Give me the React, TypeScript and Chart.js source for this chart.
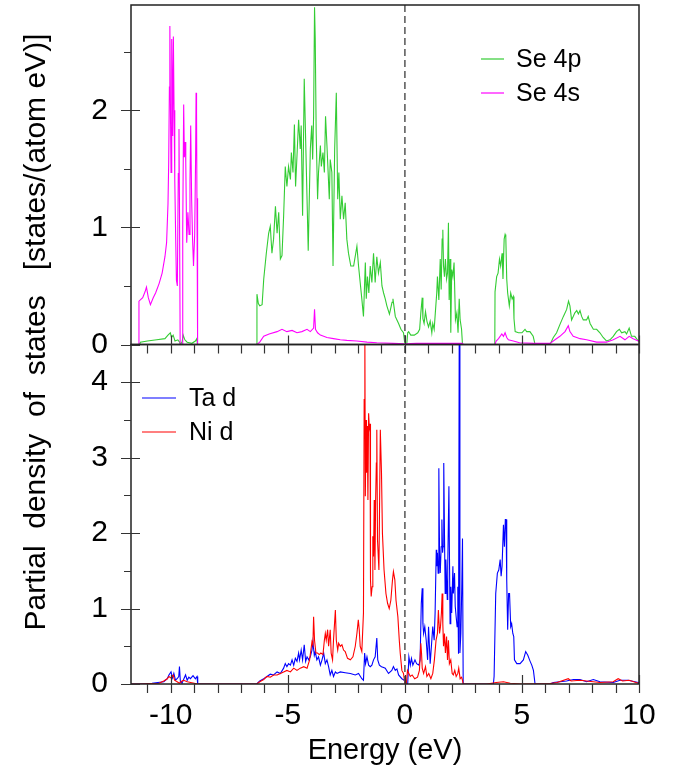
import React, { useEffect, useRef } from "react";
import { Chart, registerables } from "chart.js";

Chart.register(...registerables);

const X_MIN = -11.7;
const X_MAX = 10;
const TOP_MAX = 2.9;
const BOT_MAX = 4.5;

const FONT = '"Liberation Sans", Arial, Helvetica, sans-serif';

const Y_TITLE = "Partial  density  of  states   [states/(atom eV)]";
const X_TITLE = "Energy (eV)";

// [energy (eV), PDOS]
const se4p: [number, number][] = [
  [-11.7, 0], [-11.33, 0], [-11.3, 0.02], [-11.0, 0.03], [-10.6, 0.04], [-10.25, 0.05], [-10.12, 0.08],
  [-10.02, 0.1], [-9.97, 0.06], [-9.9, 0.08], [-9.82, 0.03], [-9.7, 0.04], [-9.62, 0.02], [-9.59, 0],
  [-9.52, 0.02], [-9.47, 0.08], [-9.4, 0.04], [-9.3, 0.02], [-9.1, 0.01], [-8.95, 0.03], [-8.89, 0.05],
  [-8.86, 0], [-6.33, 0],
  [-6.32, 0.43], [-6.26, 0.35], [-6.2, 0.33], [-6.1, 0.34], [-6.03, 0.56], [-5.92, 0.78], [-5.82, 0.95],
  [-5.75, 1.01], [-5.68, 0.78], [-5.61, 0.9], [-5.53, 1.18], [-5.46, 0.95], [-5.39, 1.13], [-5.32, 0.73],
  [-5.25, 0.76], [-5.18, 1.1], [-5.11, 1.52], [-5.04, 1.35], [-4.97, 1.52], [-4.89, 1.41], [-4.85, 1.64],
  [-4.78, 1.47], [-4.72, 1.88], [-4.67, 1.35], [-4.61, 1.61], [-4.54, 1.92], [-4.47, 1.67], [-4.43, 1.87],
  [-4.37, 1.1], [-4.3, 2.27], [-4.24, 1.75], [-4.18, 1.24], [-4.13, 0.8], [-4.04, 1.67], [-3.98, 1.87],
  [-3.94, 1.58], [-3.9, 1.95], [-3.86, 2.88], [-3.83, 2.61], [-3.79, 1.81], [-3.73, 1.24], [-3.69, 1.47],
  [-3.61, 1.7], [-3.57, 1.52], [-3.5, 1.64], [-3.44, 1.47], [-3.39, 1.95], [-3.33, 1.7], [-3.29, 1.52],
  [-3.23, 1.24], [-3.19, 1.58], [-3.12, 1.47], [-3.07, 0.67], [-3.0, 1.67], [-2.93, 2.15], [-2.87, 1.24],
  [-2.82, 1.47], [-2.76, 1.07], [-2.69, 1.27], [-2.62, 1.07], [-2.55, 1.21], [-2.48, 0.9], [-2.41, 0.78],
  [-2.31, 0.67], [-2.19, 0.67], [-2.05, 0.84], [-1.98, 0.67], [-1.91, 0.53], [-1.84, 0.39], [-1.77, 0.24],
  [-1.69, 0.7], [-1.65, 0.39], [-1.6, 0.58], [-1.54, 0.44], [-1.48, 0.67], [-1.41, 0.53], [-1.34, 0.78],
  [-1.27, 0.53], [-1.2, 0.75], [-1.13, 0.61], [-1.05, 0.7], [-0.98, 0.5], [-0.91, 0.44], [-0.84, 0.39],
  [-0.77, 0.33], [-0.66, 0.26], [-0.55, 0.36], [-0.51, 0.39], [-0.45, 0.3], [-0.41, 0.24], [-0.34, 0.21],
  [-0.27, 0.18], [-0.17, 0.13], [-0.06, 0.1], [0.0, 0], [0.08, 0], [0.12, 0.1], [0.16, 0.11], [0.25, 0.08],
  [0.4, 0.08], [0.55, 0.1], [0.63, 0.13], [0.68, 0.27], [0.74, 0.4], [0.77, 0.22], [0.82, 0.18],
  [0.88, 0.28], [0.94, 0.2], [1.01, 0.15], [1.08, 0.2], [1.15, 0.1], [1.19, 0.18], [1.25, 0.13],
  [1.31, 0.3], [1.36, 0.44], [1.39, 0.58], [1.45, 0.38], [1.51, 0.73], [1.55, 0.47], [1.59, 0.9],
  [1.62, 0.98], [1.65, 0.67], [1.69, 0.58], [1.73, 0.73], [1.78, 0.56], [1.82, 0.61], [1.86, 1.04],
  [1.89, 0.38], [1.93, 0.73], [1.96, 0.1], [2.0, 0.64], [2.05, 0.58], [2.1, 0.7], [2.16, 0.21],
  [2.22, 0.27], [2.27, 0.1], [2.32, 0.39], [2.36, 0.21], [2.42, 0.13], [2.46, 0], [3.84, 0],
  [3.85, 0.45], [3.92, 0.58], [3.98, 0.61], [4.04, 0.73], [4.09, 0.67], [4.15, 0.78], [4.19, 0.56],
  [4.24, 0.9], [4.28, 0.94], [4.31, 0.92], [4.35, 0.56], [4.39, 0.44], [4.46, 0.33], [4.52, 0.44],
  [4.58, 0.39], [4.63, 0.41], [4.66, 0.22], [4.71, 0.11], [4.85, 0.1], [5.0, 0.1], [5.13, 0.13],
  [5.2, 0.11], [5.34, 0.11], [5.48, 0.07], [5.56, 0], [6.2, 0],
  [6.34, 0.06], [6.48, 0.1], [6.62, 0.17], [6.77, 0.24], [6.91, 0.3], [6.99, 0.37], [7.05, 0.33],
  [7.12, 0.21], [7.19, 0.24], [7.26, 0.27], [7.34, 0.29], [7.41, 0.26], [7.48, 0.29], [7.55, 0.24],
  [7.62, 0.21], [7.76, 0.21], [7.83, 0.24], [7.91, 0.18], [8.05, 0.13], [8.19, 0.13], [8.33, 0.1],
  [8.47, 0.06], [8.61, 0.03], [8.76, 0.04], [8.9, 0.07], [9.04, 0.11], [9.16, 0.13], [9.26, 0.1],
  [9.4, 0.11], [9.47, 0.09], [9.58, 0.14], [9.68, 0.07], [9.82, 0.07], [9.97, 0.03], [10, 0.03],
];

const se4s: [number, number][] = [
  [-11.7, 0], [-11.38, 0], [-11.36, 0.37], [-11.2, 0.4], [-11.1, 0.45], [-11.04, 0.49], [-10.96, 0.4],
  [-10.87, 0.34], [-10.75, 0.4], [-10.65, 0.44], [-10.5, 0.52], [-10.37, 0.61], [-10.25, 0.75],
  [-10.18, 0.87], [-10.12, 1.2], [-10.09, 1.55], [-10.06, 2.2], [-10.04, 2.72], [-10.01, 1.9],
  [-9.99, 1.47], [-9.96, 2.61], [-9.94, 2.2], [-9.92, 1.78], [-9.89, 2.63], [-9.86, 2.0], [-9.83, 1.4],
  [-9.79, 0.9], [-9.76, 0.55], [-9.72, 0.5], [-9.68, 1.46], [-9.65, 1.84], [-9.63, 1.2], [-9.6, 0],
  [-9.52, 0], [-9.49, 1.0], [-9.45, 2.05], [-9.42, 1.6], [-9.38, 1.73], [-9.36, 1.55], [-9.32, 0.87],
  [-9.27, 1.13], [-9.22, 0.94], [-9.18, 1.4], [-9.15, 1.87], [-9.11, 1.24], [-9.07, 0.9], [-9.03, 0.67],
  [-8.98, 0.94], [-8.94, 1.6], [-8.92, 2.15], [-8.9, 1.98], [-8.88, 1.1], [-8.86, 1.25], [-8.85, 0],
  [-6.33, 0], [-6.2, 0.02], [-6.03, 0.07], [-5.8, 0.09], [-5.46, 0.11], [-5.25, 0.13], [-5.04, 0.11],
  [-4.82, 0.12], [-4.61, 0.1], [-4.4, 0.11], [-4.18, 0.13], [-4.04, 0.11], [-3.9, 0.14], [-3.86, 0.3],
  [-3.82, 0.13], [-3.73, 0.1], [-3.61, 0.08], [-3.33, 0.06], [-3.05, 0.05], [-2.76, 0.04], [-2.48, 0.035],
  [-2.05, 0.03], [-1.62, 0.02], [-1.2, 0.015], [-0.5, 0.01], [0, 0.005], [0.5, 0.01], [1.5, 0.01],
  [2.46, 0.01], [2.5, 0], [3.84, 0], [3.9, 0.03], [4.0, 0.05], [4.14, 0.09], [4.21, 0.07], [4.28, 0.1],
  [4.35, 0.06], [4.42, 0.04], [4.63, 0.03], [4.9, 0.015], [5.5, 0.01], [6.2, 0.01], [6.41, 0.04],
  [6.62, 0.07], [6.84, 0.11], [6.98, 0.16], [7.05, 0.11], [7.19, 0.07], [7.34, 0.06], [7.48, 0.05],
  [7.76, 0.04], [8.19, 0.02], [8.61, 0.02], [8.9, 0.04], [9.19, 0.07], [9.4, 0.04], [9.58, 0.07],
  [9.75, 0.05], [9.97, 0.03], [10, 0.03],
];

const taD: [number, number][] = [
  [-11.7, 0], [-11.36, 0], [-10.8, 0.01], [-10.3, 0.03], [-10.15, 0.07], [-10.08, 0.12], [-9.99, 0.16],
  [-9.93, 0.08], [-9.87, 0.14], [-9.8, 0.05], [-9.73, 0.07], [-9.66, 0.1], [-9.63, 0.23], [-9.59, 0.03],
  [-9.52, 0.01], [-9.44, 0.07], [-9.37, 0.12], [-9.3, 0.05], [-9.23, 0.09], [-9.16, 0.07], [-9.05, 0.11],
  [-8.95, 0.07], [-8.88, 0.1], [-8.85, 0], [-6.33, 0],
  [-6.2, 0.04], [-6.03, 0.07], [-5.89, 0.1], [-5.75, 0.13], [-5.61, 0.12], [-5.46, 0.16], [-5.32, 0.14],
  [-5.18, 0.21], [-5.11, 0.27], [-5.04, 0.23], [-4.97, 0.27], [-4.89, 0.25], [-4.82, 0.32], [-4.75, 0.25],
  [-4.68, 0.34], [-4.61, 0.3], [-4.54, 0.41], [-4.5, 0.32], [-4.43, 0.45], [-4.37, 0.32], [-4.3, 0.52],
  [-4.24, 0.3], [-4.18, 0.36], [-4.11, 0.32], [-4.04, 0.36], [-3.97, 0.45], [-3.93, 0.56], [-3.87, 0.38],
  [-3.83, 0.43], [-3.76, 0.32], [-3.69, 0.36], [-3.61, 0.25], [-3.54, 0.32], [-3.47, 0.41], [-3.4, 0.27],
  [-3.33, 0.32], [-3.26, 0.23], [-3.19, 0.12], [-3.12, 0.18], [-3.05, 0.1], [-2.97, 0.16], [-2.9, 0.14],
  [-2.76, 0.16], [-2.55, 0.15], [-2.33, 0.14], [-2.12, 0.12], [-1.98, 0.14], [-1.84, 0.07], [-1.77, 0.05],
  [-1.72, 0.41], [-1.68, 0.27], [-1.62, 0.36], [-1.55, 0.25], [-1.48, 0.23], [-1.41, 0.25], [-1.34, 0.32],
  [-1.27, 0.36], [-1.2, 0.61], [-1.16, 0.32], [-1.09, 0.25], [-1.0, 0.23], [-0.91, 0.22], [-0.84, 0.21],
  [-0.7, 0.14], [-0.56, 0.18], [-0.49, 0.23], [-0.41, 0.18], [-0.34, 0.2], [-0.27, 0.12], [-0.13, 0.07],
  [-0.03, 0.05], [0.03, 0], [0.12, 0], [0.17, 0.36], [0.23, 0.25], [0.28, 0.34], [0.34, 0.25],
  [0.43, 0.32], [0.5, 0.27], [0.6, 0.25], [0.65, 0.32], [0.7, 1.07], [0.74, 1.27], [0.77, 0.8],
  [0.8, 0.67], [0.85, 0.76], [0.91, 0.58], [0.97, 0.32], [1.01, 0.76], [1.08, 0.27], [1.15, 0.58],
  [1.19, 0.76], [1.25, 0.58], [1.29, 0.94], [1.34, 1.78], [1.36, 1.56], [1.39, 1.74], [1.42, 1.47],
  [1.45, 2.86], [1.48, 1.74], [1.51, 1.47], [1.55, 1.82], [1.58, 2.18], [1.61, 1.74], [1.63, 1.82],
  [1.66, 2.93], [1.69, 2.0], [1.72, 1.2], [1.75, 1.65], [1.78, 1.38], [1.81, 1.12], [1.83, 1.56],
  [1.88, 2.62], [1.9, 1.82], [1.93, 0.8], [1.96, 1.29], [2.0, 0.94], [2.05, 1.56], [2.07, 1.2],
  [2.12, 1.47], [2.15, 1.03], [2.19, 0.89], [2.23, 0.76], [2.26, 1.29], [2.29, 0.4], [2.32, 4.6],
  [2.35, 0.41], [2.39, 0.67], [2.43, 1.29], [2.46, 1.93], [2.49, 0], [3.78, 0],
  [3.81, 0.1], [3.88, 1.2], [3.95, 1.47], [4.01, 1.51], [4.07, 1.65], [4.11, 1.43], [4.15, 1.56],
  [4.21, 2.11], [4.25, 1.82], [4.29, 2.18], [4.32, 2.18], [4.35, 1.38], [4.39, 0.72], [4.43, 1.2],
  [4.47, 1.2], [4.52, 0.76], [4.56, 0.8], [4.61, 0.67], [4.65, 0.63], [4.68, 0.32], [4.78, 0.27],
  [4.92, 0.27], [5.06, 0.32], [5.16, 0.43], [5.25, 0.38], [5.35, 0.3], [5.42, 0.25], [5.49, 0.18],
  [5.56, 0], [6.2, 0], [6.34, 0.02], [6.9, 0.04], [7.2, 0.06], [7.48, 0.06], [7.76, 0.03], [8.05, 0.06],
  [8.33, 0.03], [8.9, 0.02], [9.19, 0.05], [9.54, 0.05], [9.97, 0.02], [10, 0.02],
];

const niD: [number, number][] = [
  [-11.7, 0], [-11.36, 0], [-10.5, 0.01], [-10.3, 0.04], [-10.15, 0.07], [-10.08, 0.1], [-9.99, 0.08],
  [-9.9, 0.12], [-9.84, 0.05], [-9.73, 0.03], [-9.63, 0.01], [-9.52, 0.04], [-9.45, 0.05], [-9.3, 0.03],
  [-9.0, 0.01], [-8.85, 0], [-6.33, 0],
  [-6.2, 0.03], [-6.03, 0.06], [-5.89, 0.1], [-5.75, 0.09], [-5.61, 0.12], [-5.46, 0.12], [-5.32, 0.14],
  [-5.18, 0.16], [-5.04, 0.18], [-4.89, 0.16], [-4.75, 0.21], [-4.61, 0.18], [-4.47, 0.21], [-4.32, 0.23],
  [-4.18, 0.21], [-4.07, 0.32], [-3.97, 0.56], [-3.93, 0.52], [-3.9, 0.89], [-3.86, 0.58], [-3.8, 0.41],
  [-3.73, 0.41], [-3.66, 0.39], [-3.59, 0.41], [-3.5, 0.39], [-3.44, 0.58], [-3.4, 0.67], [-3.36, 0.58],
  [-3.3, 0.72], [-3.26, 0.5], [-3.19, 0.72], [-3.15, 0.41], [-3.09, 0.32], [-3.05, 0.58], [-2.97, 0.98],
  [-2.93, 0.58], [-2.87, 0.45], [-2.83, 0.54], [-2.76, 0.5], [-2.69, 0.52], [-2.62, 0.45], [-2.55, 0.43],
  [-2.45, 0.34], [-2.33, 0.32], [-2.22, 0.36], [-2.12, 0.5], [-2.05, 0.67], [-1.99, 0.85], [-1.95, 0.72],
  [-1.91, 0.5], [-1.84, 0.43], [-1.77, 0.94], [-1.74, 3.77], [-1.71, 4.6], [-1.69, 2.49], [-1.66, 3.5],
  [-1.64, 2.8], [-1.61, 3.42], [-1.58, 2.44], [-1.55, 3.59], [-1.52, 3.4], [-1.49, 3.45], [-1.47, 1.38],
  [-1.44, 1.16], [-1.4, 1.29], [-1.37, 1.96], [-1.34, 1.69], [-1.31, 2.44], [-1.28, 1.51], [-1.25, 2.44],
  [-1.22, 2.93], [-1.2, 3.37], [-1.17, 1.91], [-1.11, 1.51], [-1.05, 3.37], [-1.0, 2.8], [-0.96, 2.0],
  [-0.89, 1.51], [-0.81, 1.2], [-0.74, 1.07], [-0.67, 1.0], [-0.6, 1.11], [-0.53, 1.38], [-0.49, 1.49],
  [-0.43, 1.38], [-0.38, 1.11], [-0.3, 0.89], [-0.24, 0.58], [-0.2, 0.41], [-0.13, 0.18], [-0.06, 0.14],
  [0.0, 0], [0.06, 0], [0.11, 0.18], [0.17, 0.14], [0.23, 0.1], [0.31, 0.12], [0.42, 0.07], [0.54, 0.09],
  [0.62, 0.18], [0.68, 0.54], [0.71, 0.41], [0.74, 0.21], [0.8, 0.14], [0.88, 0.23], [0.94, 0.1],
  [1.02, 0.14], [1.11, 0.07], [1.19, 0.14], [1.26, 0.32], [1.33, 0.58], [1.39, 0.67], [1.43, 0.98],
  [1.48, 0.67], [1.52, 0.76], [1.56, 0.94], [1.59, 1.2], [1.62, 0.8], [1.65, 0.5], [1.69, 0.67],
  [1.73, 0.41], [1.78, 0.63], [1.82, 0.32], [1.86, 0.58], [1.9, 0.27], [1.96, 0.32], [2.02, 0.14],
  [2.07, 0.12], [2.13, 0.18], [2.19, 0.1], [2.26, 0.14], [2.3, 0.21], [2.36, 0.07], [2.42, 0.09],
  [2.46, 0.05], [2.49, 0], [3.5, 0], [3.9, 0.02], [4.21, 0.03], [4.5, 0.01], [5.0, 0], [6.2, 0.005],
  [6.5, 0.02], [6.98, 0.07], [7.1, 0.04], [7.48, 0.05], [7.76, 0.04], [8.33, 0.02], [8.9, 0.03],
  [9.11, 0.07], [9.3, 0.04], [9.58, 0.05], [9.97, 0.01], [10, 0.01],
];

const SERIES = [
  { label: "Se 4p", data: se4p, color: "#33cc33", panel: "yTop", order: 2 },
  { label: "Se 4s", data: se4s, color: "#ff00ff", panel: "yTop", order: 1 },
  { label: "Ta d", data: taD, color: "#0000ff", panel: "yBot", order: 4 },
  { label: "Ni d", data: niD, color: "#ff0000", panel: "yBot", order: 3 },
];

const toXY = (arr: [number, number][]) => arr.map(([x, y]) => ({ x, y }));

const panelClip = {
  id: "panelClip",
  beforeDatasetDraw(chart: any, args: any) {
    const ctx = chart.ctx;
    const ys = chart.scales[args.meta.yAxisID];
    const ca = chart.chartArea;
    ctx.save();
    ctx.beginPath();
    ctx.rect(ca.left, ys.top, ca.right - ca.left, ys.bottom - ys.top);
    ctx.clip();
  },
  afterDatasetDraw(chart: any) {
    chart.ctx.restore();
  },
};

const decorations = {
  id: "decorations",
  afterDraw(chart: any) {
    const ctx = chart.ctx;
    const ca = chart.chartArea;
    const xs = chart.scales.x;
    const yTop = chart.scales.yTop;
    const yBot = chart.scales.yBot;
    ctx.save();

    // zero-energy dashed line
    const x0 = xs.getPixelForValue(0);
    ctx.strokeStyle = "#555";
    ctx.lineWidth = 1.5;
    ctx.setLineDash([7, 4]);
    ctx.beginPath();
    ctx.moveTo(x0, Math.min(yTop.top, yBot.top));
    ctx.lineTo(x0, Math.max(yTop.bottom, yBot.bottom));
    ctx.stroke();
    ctx.setLineDash([]);

    // frames
    ctx.strokeStyle = "#222";
    ctx.lineWidth = 1.5;
    for (const ys of [yTop, yBot]) {
      ctx.strokeRect(ca.left, ys.top, ca.right - ca.left, ys.bottom - ys.top);
    }

    // ticks
    ctx.strokeStyle = "#333";
    ctx.lineWidth = 1.2;
    ctx.beginPath();
    for (const ys of [yTop, yBot]) {
      for (let e = Math.ceil(X_MIN); e <= X_MAX; e++) {
        const px = Math.round(xs.getPixelForValue(e)) + 0.5;
        const major = e % 5 === 0;
        ctx.moveTo(px, ys.bottom + 9);
        ctx.lineTo(px, major ? ys.bottom - 9 : ys.bottom);
      }
      const vmax = ys.max;
      for (let v = 0; v <= vmax + 1e-9; v += 0.5) {
        const py = Math.round(ys.getPixelForValue(v)) + 0.5;
        const major = Math.abs(v - Math.round(v)) < 1e-9;
        ctx.moveTo(ca.left - (major ? 10 : 7), py);
        ctx.lineTo(major ? ca.left + 9 : ca.left, py);
      }
    }
    ctx.stroke();

    // legends
    const drawLegend = (items: { label: string; color: string }[], x1: number, x2: number, tx: number, y: number, dy: number) => {
      ctx.font = `25px ${FONT}`;
      ctx.textBaseline = "middle";
      ctx.textAlign = "left";
      items.forEach((it, i) => {
        const yy = y + i * dy;
        ctx.strokeStyle = it.color;
        ctx.lineWidth = 1.2;
        ctx.beginPath();
        ctx.moveTo(x1, yy);
        ctx.lineTo(x2, yy);
        ctx.stroke();
        ctx.fillStyle = "#000";
        ctx.fillText(it.label, tx, yy + 1);
      });
    };
    drawLegend(SERIES.filter((s) => s.panel === "yTop"), 481, 504, 516, 59, 34);
    drawLegend(SERIES.filter((s) => s.panel === "yBot"), 142, 176, 189, 398, 34);

    // y-axis title
    ctx.fillStyle = "#000";
    ctx.font = `30px ${FONT}`;
    ctx.textAlign = "center";
    ctx.textBaseline = "middle";
    ctx.translate(37, 332);
    ctx.rotate(-Math.PI / 2);
    ctx.fillText(Y_TITLE, 0, 0);
    ctx.restore();
  },
};

export default function App() {
  const ref = useRef<HTMLCanvasElement | null>(null);

  useEffect(() => {
    if (!ref.current) return;
    const tickFont = { family: FONT, size: 30 };
    const yCommon = (max: number) => ({
      type: "linear" as const,
      position: "left" as const,
      stack: "dos",
      stackWeight: 1,
      min: 0,
      max,
      grid: { display: false, drawTicks: false },
      border: { display: false },
      ticks: {
        stepSize: 1,
        includeBounds: false,
        padding: 23,
        color: "#000",
        font: tickFont,
        autoSkip: false,
        callback: (v: any) => String(v),
      },
      afterFit: (s: any) => {
        s.width = 131;
        s.paddingTop = 0;
        s.paddingBottom = 0;
      },
    });
    const chart = new Chart(ref.current, {
      type: "line",
      data: {
        datasets: SERIES.map((s) => ({
          label: s.label,
          data: toXY(s.data),
          yAxisID: s.panel,
          xAxisID: "x",
          borderColor: s.color,
          backgroundColor: s.color,
          borderWidth: 1.1,
          pointRadius: 0,
          tension: 0,
          fill: false,
          order: s.order,
        })),
      },
      options: {
        animation: false,
        responsive: false,
        maintainAspectRatio: false,
        events: [],
        layout: { padding: { top: 5, right: 44, left: 0, bottom: 0 } },
        plugins: { legend: { display: false }, tooltip: { enabled: false } },
        scales: {
          x: {
            type: "linear",
            position: "bottom",
            min: X_MIN,
            max: X_MAX,
            grid: { display: false, drawTicks: false },
            border: { display: false },
            ticks: {
              stepSize: 5,
              includeBounds: false,
              padding: 14,
              color: "#000",
              font: tickFont,
              autoSkip: false,
              maxRotation: 0,
              callback: (v: any) => String(v),
            },
            title: {
              display: true,
              text: X_TITLE,
              color: "#000",
              font: { family: FONT, size: 29 },
              padding: { top: 0, bottom: 3 },
            },
            afterFit: (s: any) => {
              s.height = 87;
              s.paddingLeft = 0;
              s.paddingRight = 0;
            },
          },
          yBot: yCommon(BOT_MAX),
          yTop: yCommon(TOP_MAX),
        },
      } as any,
      plugins: [panelClip, decorations],
    });
    return () => chart.destroy();
  }, []);

  return (
    <div style={{ position: "absolute", left: 0, top: 0, width: 683, height: 771, background: "#fff" }}>
      <canvas ref={ref} width={683} height={771} style={{ display: "block" }} />
    </div>
  );
}
